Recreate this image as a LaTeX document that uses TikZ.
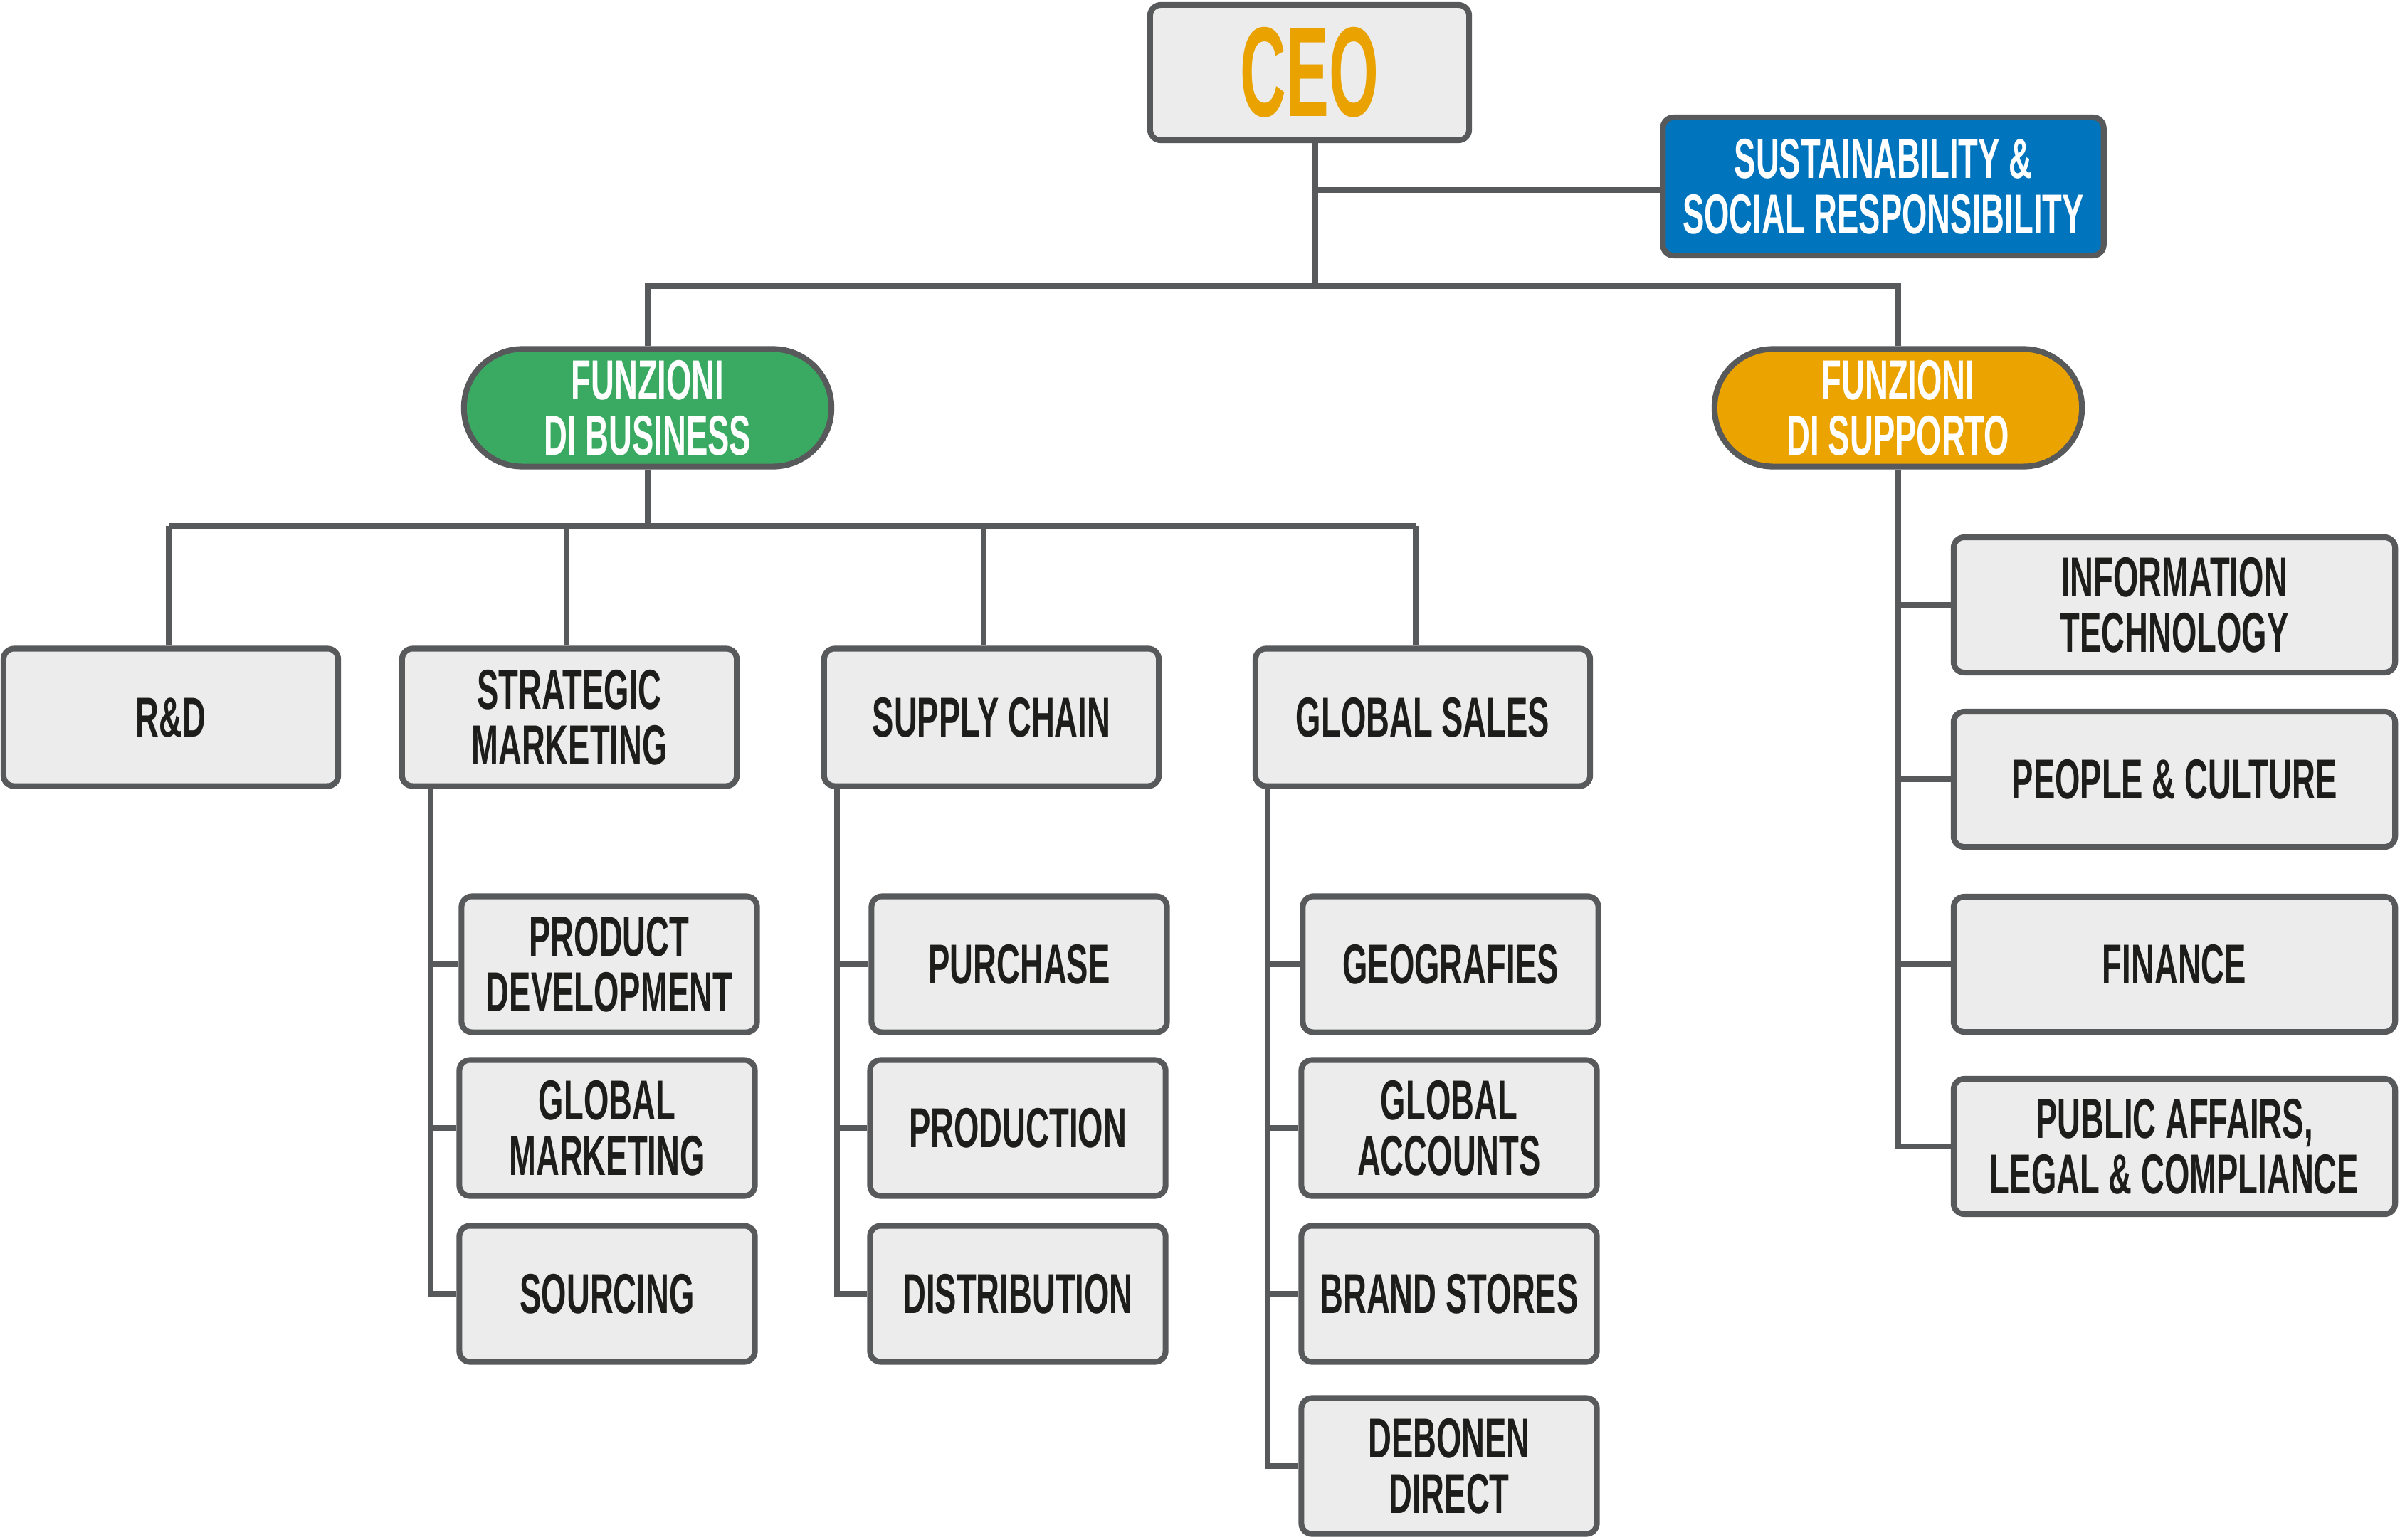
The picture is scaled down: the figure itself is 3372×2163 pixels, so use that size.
\documentclass[tikz,border=0pt]{standalone}
\usepackage{fontspec}
\setmainfont{Liberation Sans}[FakeStretch=0.575]
\newfontfamily\ceofont{Liberation Sans}[FakeStretch=0.5]
\definecolor{lineg}{HTML}{58595B}
\definecolor{boxg}{HTML}{EBECEB}
\definecolor{ceoor}{HTML}{E9A200}
\definecolor{sblue}{HTML}{0075BE}
\definecolor{bgreen}{HTML}{3AAA62}
\definecolor{sorange}{HTML}{EBA300}
\definecolor{txt}{HTML}{1D1D1B}
\tikzset{
  conn/.style={draw=lineg, line width=2.3pt},
  box/.style={draw=lineg, line width=2.3pt, fill=boxg, rounded corners=0.15cm,
    align=center, inner sep=0pt, text=txt,
    font=\bfseries\fontsize{22.5}{22.2}\selectfont},
  topbox/.style={box, minimum width=4.70cm, minimum height=1.93cm},
  subbox/.style={box, minimum width=4.15cm, minimum height=1.91cm},
  supbox/.style={box, minimum width=6.20cm, minimum height=1.90cm},
  pill/.style={box, text=white, rounded corners=0.82cm, minimum width=5.16cm, minimum height=1.65cm}
}
\begin{document}
\begin{tikzpicture}[x=0.01cm, y=-0.01cm]
\useasboundingbox (0,0) rectangle (3372,2163);

\node[box, minimum width=4.48cm, minimum height=1.90cm, text=ceoor,
  font=\ceofont\bfseries\fontsize{51}{54}\selectfont] (ceo) at (1840,102) {CEO};
\node[box, fill=sblue, text=white, minimum width=6.19cm, minimum height=1.94cm] (ssr) at (2646,262)
  {SUSTAINABILITY \&\\SOCIAL RESPONSIBILITY};

\node[pill, fill=bgreen] (fb) at (910,573) {FUNZIONI\\DI BUSINESS};
\node[pill, fill=sorange] (fs) at (2667,573) {FUNZIONI\\DI SUPPORTO};

\node[topbox] (rd) at (240,1008) {R\&D};
\node[topbox] (sm) at (800,1008) {STRATEGIC\\MARKETING};
\node[topbox] (sc) at (1393,1008) {SUPPLY CHAIN};
\node[topbox] (gs) at (1999,1008) {GLOBAL SALES};

\node[subbox] (pd) at (856,1355) {PRODUCT\\DEVELOPMENT};
\node[subbox] (gm) at (853,1585) {GLOBAL\\MARKETING};
\node[subbox] (so) at (853,1818) {SOURCING};

\node[subbox] (pu) at (1432,1355) {PURCHASE};
\node[subbox] (pr) at (1430,1585) {PRODUCTION};
\node[subbox] (di) at (1430,1818) {DISTRIBUTION};

\node[subbox] (ge) at (2038,1355) {GEOGRAFIES};
\node[subbox] (ga) at (2036,1585) {GLOBAL\\ACCOUNTS};
\node[subbox] (bs) at (2036,1818) {BRAND STORES};
\node[subbox] (dd) at (2036,2060) {DEBONEN\\DIRECT};

\node[supbox] (it) at (3055,850) {INFORMATION\\TECHNOLOGY};
\node[supbox] (pc) at (3055,1095) {PEOPLE \& CULTURE};
\node[supbox] (fi) at (3055,1355) {FINANCE};
\node[supbox] (pa) at (3055,1611) {PUBLIC AFFAIRS,\\LEGAL \& COMPLIANCE};

% CEO trunk
\coordinate (tx) at (1848,0);
\coordinate (b1) at (0,402);
\coordinate (sj) at (1848,267);
\draw[conn] (ceo.south -| tx) -- (tx |- b1);
\draw[conn] (sj) -- (sj -| ssr.west);
\draw[conn] (fb.north) -- (fb.north |- b1) -- (fs.north |- b1) -- (fs.north);

% business bus
\coordinate (d1) at (237,739);
\coordinate (d2) at (796,739);
\coordinate (d3) at (1382,739);
\coordinate (d4) at (1989,739);
\draw[conn] (fb.south) -- (fb.south |- d1);
\draw[conn] (d1) -- (d4);
\draw[conn] (d1) -- (d1 |- rd.north);
\draw[conn] (d2) -- (d2 |- sm.north);
\draw[conn] (d3) -- (d3 |- sc.north);
\draw[conn] (d4) -- (d4 |- gs.north);

% strategic marketing
\coordinate (v1) at (605,0);
\draw[conn] (sm.south -| v1) |- (so.west);
\draw[conn] (v1 |- pd.west) -- (pd.west);
\draw[conn] (v1 |- gm.west) -- (gm.west);

% supply chain
\coordinate (v2) at (1176,0);
\draw[conn] (sc.south -| v2) |- (di.west);
\draw[conn] (v2 |- pu.west) -- (pu.west);
\draw[conn] (v2 |- pr.west) -- (pr.west);

% global sales
\coordinate (v3) at (1781,0);
\draw[conn] (gs.south -| v3) |- (dd.west);
\draw[conn] (v3 |- ge.west) -- (ge.west);
\draw[conn] (v3 |- ga.west) -- (ga.west);
\draw[conn] (v3 |- bs.west) -- (bs.west);

% support
\draw[conn] (fs.south) |- (pa.west);
\draw[conn] (fs.south |- it.west) -- (it.west);
\draw[conn] (fs.south |- pc.west) -- (pc.west);
\draw[conn] (fs.south |- fi.west) -- (fi.west);
\end{tikzpicture}
\end{document}
